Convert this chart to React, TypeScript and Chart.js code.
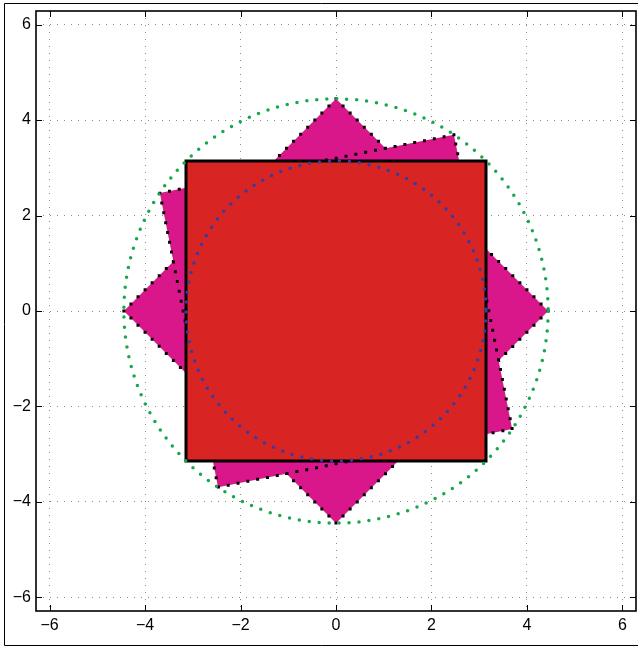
import React, { useEffect, useRef } from "react";
import { Chart, registerables } from "chart.js";

Chart.register(...registerables);

// Axis limits and tick labels
const AXIS_MIN = -6.2832;
const AXIS_MAX = 6.2832;
const TICK_VALUES = [-6, -4, -2, 0, 2, 4, 6];

// Diamond (square turned 45°)
const DIAMOND_X = [4.443, 0, -4.443, 0, 4.443];
const DIAMOND_Y = [0, 4.443, 0, -4.443, 0];

// Slightly tilted square
const TILTED_X = [2.47, -3.69, -2.47, 3.69, 2.47];
const TILTED_Y = [3.69, 2.47, -3.69, -2.47, 3.69];

// Axis-aligned square
const SQUARE_X = [-3.1416, 3.1416, 3.1416, -3.1416, -3.1416];
const SQUARE_Y = [3.1416, 3.1416, -3.1416, -3.1416, 3.1416];

// Circles centred at the origin
const CIRCLE_RADII = [4.443, 3.1416];
const CIRCLE_COLORS = ["rgb(22,168,74)", "rgb(54,60,162)"];

const RED = "rgb(217,36,36)";
const MAGENTA = "rgb(217,22,138)";

const toPoints = (xs: number[], ys: number[]) => xs.map((x, i) => ({ x, y: ys[i] }));

const overlayPlugin = {
  id: "overlay",
  afterDatasetsDraw(chart: any) {
    const { ctx, chartArea: a, scales } = chart;
    const xs = scales.x;
    const ys = scales.y;
    ctx.save();
    ctx.beginPath();
    ctx.rect(a.left, a.top, a.right - a.left, a.bottom - a.top);
    ctx.clip();
    const cx = xs.getPixelForValue(0);
    const cy = ys.getPixelForValue(0);
    CIRCLE_RADII.forEach((r, i) => {
      const rx = xs.getPixelForValue(r) - cx;
      const ry = cy - ys.getPixelForValue(r);
      ctx.beginPath();
      ctx.ellipse(cx, cy, rx, ry, 0, 0, Math.PI * 2);
      ctx.setLineDash([0, 10]);
      ctx.lineCap = "round";
      ctx.lineWidth = 3.5;
      ctx.strokeStyle = CIRCLE_COLORS[i];
      ctx.stroke();
    });
    ctx.restore();
  },
  afterDraw(chart: any) {
    const { ctx, chartArea: a, scales, width, height } = chart;
    const xs = scales.x;
    const ys = scales.y;
    ctx.save();
    ctx.setLineDash([]);
    // tick marks inside the box
    ctx.strokeStyle = "#000";
    ctx.lineWidth = 1;
    const len = 6;
    ctx.beginPath();
    TICK_VALUES.forEach((v) => {
      const px = Math.round(xs.getPixelForValue(v)) + 0.5;
      ctx.moveTo(px, a.bottom);
      ctx.lineTo(px, a.bottom - len);
      ctx.moveTo(px, a.top);
      ctx.lineTo(px, a.top + len);
      const py = Math.round(ys.getPixelForValue(v)) + 0.5;
      ctx.moveTo(a.left, py);
      ctx.lineTo(a.left + len, py);
      ctx.moveTo(a.right, py);
      ctx.lineTo(a.right - len, py);
    });
    ctx.stroke();
    // axes box
    ctx.lineWidth = 1.6;
    ctx.strokeRect(a.left, a.top, a.right - a.left, a.bottom - a.top);
    // figure frame
    ctx.lineWidth = 1;
    ctx.beginPath();
    ctx.moveTo(width, 3.5);
    ctx.lineTo(4.5, 3.5);
    ctx.lineTo(4.5, height - 2.5);
    ctx.lineTo(width, height - 2.5);
    ctx.stroke();
    ctx.restore();
  },
};

export default function App() {
  const canvasRef = useRef<HTMLCanvasElement | null>(null);

  useEffect(() => {
    const canvas = canvasRef.current;
    if (!canvas) return;

    const polyStyle = {
      showLine: true,
      pointRadius: 0,
      pointHoverRadius: 0,
      borderColor: "#000",
      borderWidth: 3,
      borderDash: [0, 10],
      borderCapStyle: "square" as const,
      fill: "shape" as const,
      tension: 0,
    };

    const tickFont = { family: "'Liberation Sans', Arial, sans-serif", size: 16 };
    const tickCallback = (v: any) => String(v).replace("-", "\u2212");

    const chart = new Chart(canvas, {
      type: "scatter",
      data: {
        datasets: [
          {
            label: "square",
            data: toPoints(SQUARE_X, SQUARE_Y),
            showLine: true,
            pointRadius: 0,
            pointHoverRadius: 0,
            borderColor: "#000",
            borderWidth: 3,
            borderCapStyle: "square",
            borderJoinStyle: "miter",
            backgroundColor: RED,
            fill: "shape",
            tension: 0,
          } as any,
          { label: "tilted", data: toPoints(TILTED_X, TILTED_Y), backgroundColor: MAGENTA, ...polyStyle } as any,
          { label: "diamond", data: toPoints(DIAMOND_X, DIAMOND_Y), backgroundColor: MAGENTA, ...polyStyle } as any,
        ],
      },
      options: {
        animation: false,
        responsive: false,
        maintainAspectRatio: false,
        events: [],
        layout: { padding: { top: 11, right: 2, left: 0, bottom: 0 } },
        plugins: {
          legend: { display: false },
          tooltip: { enabled: false },
        },
        scales: {
          x: {
            type: "linear",
            min: AXIS_MIN,
            max: AXIS_MAX,
            afterFit: (s: any) => {
              s.height = 37;
              s.paddingLeft = 0;
              s.paddingRight = 0;
            },
            afterBuildTicks: (s: any) => {
              s.ticks = TICK_VALUES.map((v) => ({ value: v }));
            },
            grid: {
              color: "rgb(140,140,140)",
              lineWidth: 1,
              drawTicks: false,
            },
            border: { display: false, dash: [1, 6] },
            ticks: {
              padding: 5,
              color: "#000",
              font: tickFont,
              maxRotation: 0,
              autoSkip: false,
              callback: tickCallback,
            },
          },
          y: {
            type: "linear",
            min: AXIS_MIN,
            max: AXIS_MAX,
            afterFit: (s: any) => {
              s.width = 36;
              s.paddingTop = 0;
              s.paddingBottom = 0;
            },
            afterBuildTicks: (s: any) => {
              s.ticks = TICK_VALUES.map((v) => ({ value: v }));
            },
            grid: {
              color: "rgb(140,140,140)",
              lineWidth: 1,
              drawTicks: false,
            },
            border: { display: false, dash: [1, 6] },
            ticks: {
              padding: 5,
              color: "#000",
              font: tickFont,
              autoSkip: false,
              callback: tickCallback,
            },
          },
        },
      },
      plugins: [overlayPlugin],
    });

    return () => chart.destroy();
  }, []);

  return (
    <div style={{ position: "absolute", left: 0, top: 0, width: 638, height: 648, background: "#fff" }}>
      <canvas ref={canvasRef} width={638} height={648} style={{ display: "block", width: 638, height: 648 }} />
    </div>
  );
}
